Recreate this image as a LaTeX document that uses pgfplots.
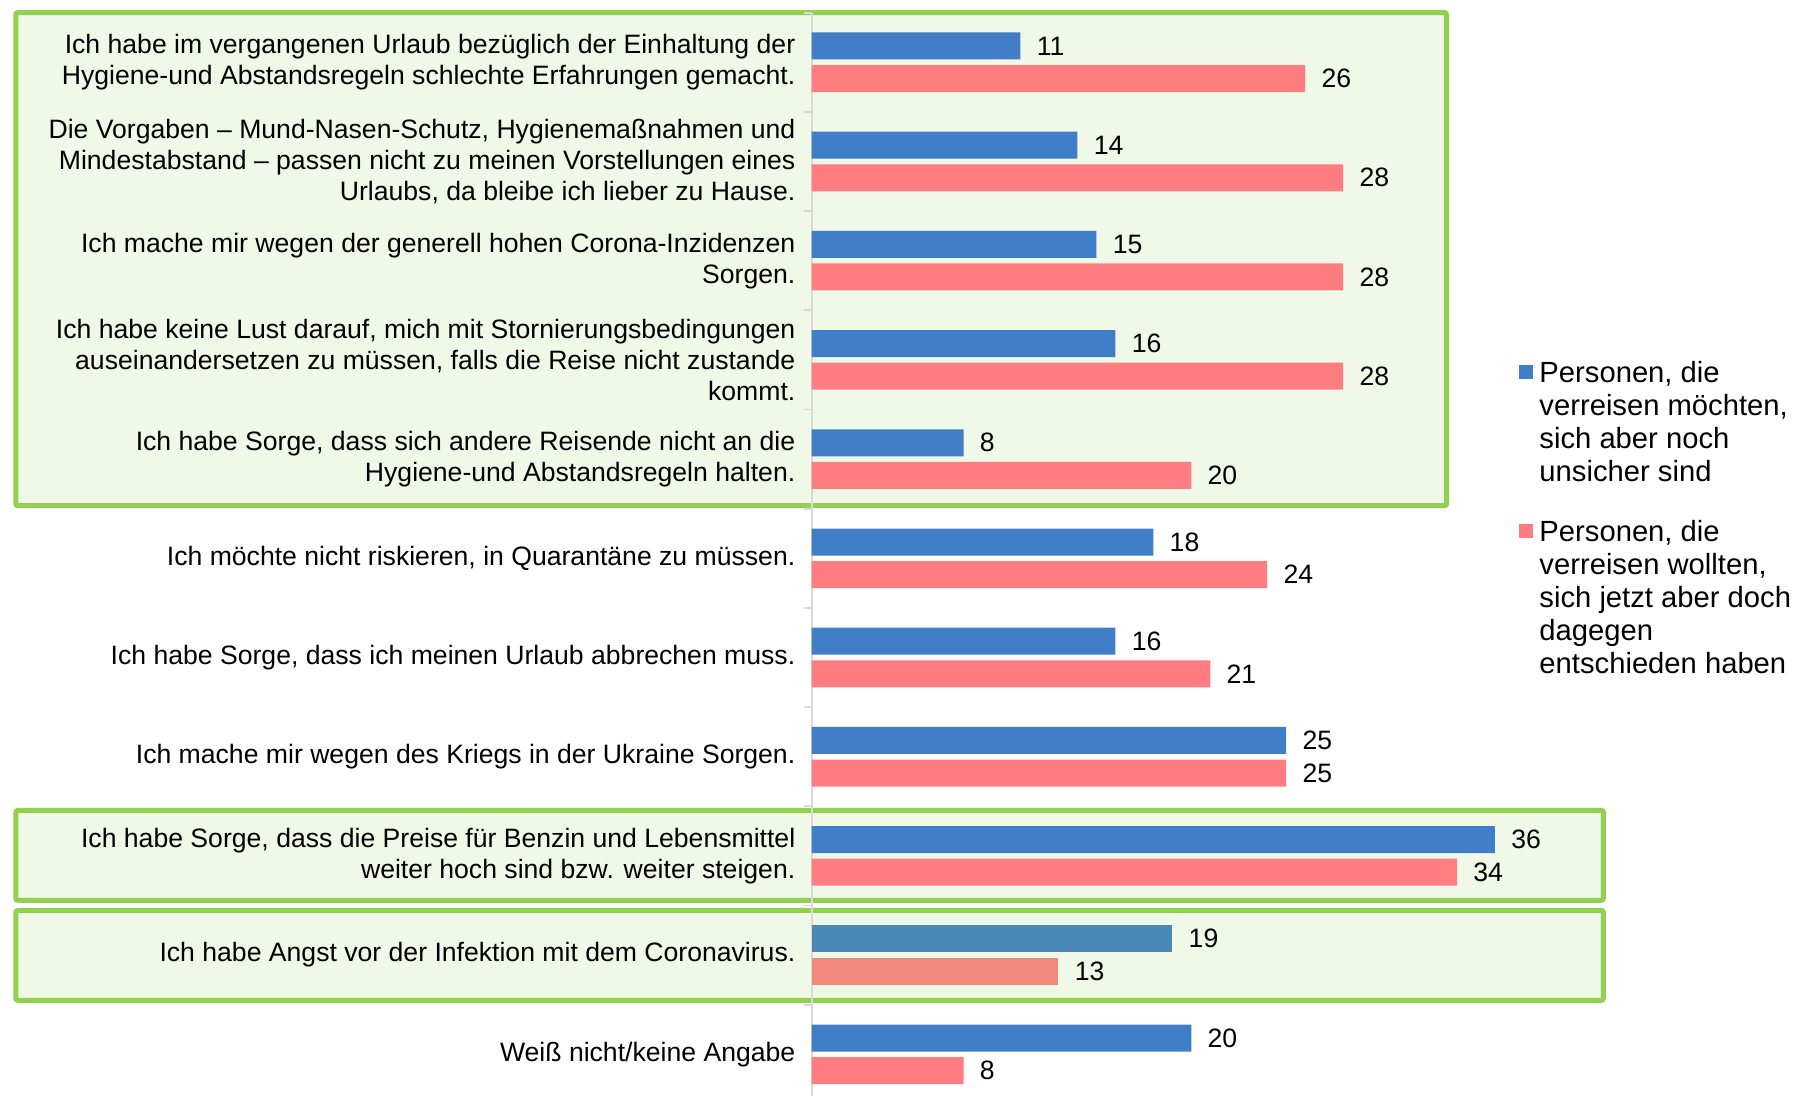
\documentclass[border=0pt]{standalone}
\usepackage{fontspec}
\setmainfont{Liberation Sans}
\usepackage{pgfplots}
\pgfplotsset{compat=1.18}
\definecolor{cblue}{HTML}{407EC8}
\definecolor{cpink}{HTML}{FF7C80}
\definecolor{cblue2}{HTML}{4A88B8}
\definecolor{cpink2}{HTML}{F2887A}
\definecolor{boxgreen}{HTML}{92D050}
\definecolor{boxfill}{HTML}{F0F8E8}
\definecolor{axgray}{HTML}{D9D9D9}
\begin{document}
\begin{tikzpicture}
\begin{axis}[
  set layers,
  at={(0pt,0pt)}, anchor=south west,
  scale only axis, width=379.6pt, height=541.65pt,
  xmin=0, xmax=40, ymin=-0.5, ymax=10.42, y dir=reverse,
  axis x line=none, axis y line*=left,
  y axis line style={draw=axgray, line width=0.9pt},
  ytick={0,...,10},
  minor ytick={-0.5,0.5,...,9.5},
  major tick length=0pt, minor tick length=4pt, tick align=outside,
  every minor tick/.append style={draw=axgray, line width=0.9pt},
  yticklabels={
    {Ich habe im vergangenen Urlaub bezüglich der Einhaltung der\\Hygiene-und Abstandsregeln schlechte Erfahrungen gemacht.},
    {Die Vorgaben – Mund-Nasen-Schutz, Hygienemaßnahmen und\\Mindestabstand – passen nicht zu meinen Vorstellungen eines\\Urlaubs, da bleibe ich lieber zu Hause.},
    {Ich mache mir wegen der generell hohen Corona-Inzidenzen\\Sorgen.},
    {Ich habe keine Lust darauf, mich mit Stornierungsbedingungen\\auseinandersetzen zu müssen, falls die Reise nicht zustande\\kommt.},
    {Ich habe Sorge, dass sich andere Reisende nicht an die\\Hygiene-und Abstandsregeln halten.},
    {Ich möchte nicht riskieren, in Quarantäne zu müssen.},
    {Ich habe Sorge, dass ich meinen Urlaub abbrechen muss.},
    {Ich mache mir wegen des Kriegs in der Ukraine Sorgen.},
    {Ich habe Sorge, dass die Preise für Benzin und Lebensmittel\\weiter hoch sind bzw. weiter steigen.},
    {Ich habe Angst vor der Infektion mit dem Coronavirus.},
    {Weiß nicht/keine Angabe}
  },
  yticklabel style={font=\fontsize{13.3}{15.5}\selectfont, align=right, inner sep=0pt, xshift=-8pt},
  clip=false,
  xbar, bar width=13.5pt,
  nodes near coords,
  every node near coord/.append style={font=\fontsize{13.3}{15.5}\selectfont, anchor=west, inner sep=0pt, xshift=8pt, text=black},
  /pgf/number format/assume math mode=true,
  legend cell align=left,
  legend image code/.code={\fill[#1] (0pt,-3.3pt) rectangle (7pt,3.7pt);},
  legend style={at={(axis cs:37.25,2.991)}, anchor=north west, draw=none, fill=none,
    inner sep=0pt, outer sep=0pt, row sep=66.3pt, column sep=3.4pt,
    font=\fontsize{14.6}{16.6}\selectfont, nodes={inner sep=0pt}},
]
\begin{pgfonlayer}{axis background}
\draw[line width=2.5pt, draw=boxgreen, fill=boxfill, rounded corners=1pt] (axis cs:-41.93,-0.5) rectangle (axis cs:33.45,4.47);
\draw[line width=2.5pt, draw=boxgreen, fill=boxfill, rounded corners=1pt] (axis cs:-41.93,7.542) rectangle (axis cs:41.71,8.447);
\draw[line width=2.5pt, draw=boxgreen, fill=boxfill, rounded corners=1pt] (axis cs:-41.93,8.55) rectangle (axis cs:41.71,9.455);
\end{pgfonlayer}
\addplot[fill=cblue, draw=none, bar shift=8.15pt] coordinates {(11,0) (14,1) (15,2) (16,3) (8,4) (18,5) (16,6) (25,7) (36,8) (20,10)};
\addlegendentry{\begin{tabular}[t]{@{}l@{}}Personen, die\\verreisen möchten,\\sich aber noch\\unsicher sind\end{tabular}}
\addplot[fill=cpink, draw=none, bar shift=-8.15pt] coordinates {(26,0) (28,1) (28,2) (28,3) (20,4) (24,5) (21,6) (25,7) (34,8) (8,10)};
\addlegendentry{\begin{tabular}[t]{@{}l@{}}Personen, die\\verreisen wollten,\\sich jetzt aber doch\\dagegen\\entschieden haben\end{tabular}}
\addplot[fill=cblue2, draw=none, bar shift=8.15pt, forget plot] coordinates {(19,9)};
\addplot[fill=cpink2, draw=none, bar shift=-8.15pt, forget plot] coordinates {(13,9)};
\end{axis}
\pgfresetboundingbox
\path[use as bounding box] (-405.85pt,0pt) rectangle (492.15pt,548pt);
\end{tikzpicture}
\end{document}
